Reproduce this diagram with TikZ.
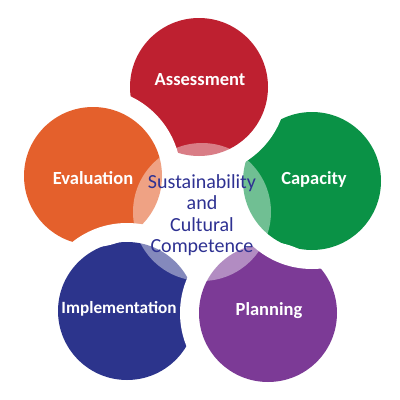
\documentclass[tikz,border=0pt]{standalone}
\usepackage{fontspec}
\setmainfont{Carlito}
\definecolor{cred}{RGB}{190,32,48}
\definecolor{cgreen}{RGB}{10,146,70}
\definecolor{cpurple}{RGB}{124,58,150}
\definecolor{cblue}{RGB}{44,52,140}
\definecolor{corange}{RGB}{228,96,44}
\definecolor{ctext}{RGB}{46,49,146}
\begin{document}
\begin{tikzpicture}[x=1pt,y=-1pt,
  lbl/.style={text=white,font=\bfseries\fontsize{18.5}{21}\selectfont,inner sep=0pt},
  ctr/.style={text=ctext,font=\fontsize{20}{21.5}\selectfont,align=center,inner sep=0pt}]
\useasboundingbox (0,0) rectangle (400,400);
\fill[white] (0,0) rectangle (400,400);
\coordinate (cA) at (199,87);
\coordinate (cC) at (312,181);
\coordinate (cP) at (268,313);
\coordinate (cI) at (127,311);
\coordinate (cE) at (93,176);
\coordinate (cO) at (202,212);
\def\mypetal#1#2#3{%
  \fill[#3] (#1) circle (69pt);
  \begin{scope}
    \clip (#1) circle (71pt);
    \fill[white] (#2) circle (88pt);
  \end{scope}}
\mypetal{cA}{cE}{cred}
\mypetal{cC}{cA}{cgreen}
\mypetal{cP}{cC}{cpurple}
\mypetal{cI}{cP}{cblue}
\mypetal{cE}{cI}{corange}
\fill[white,opacity=0.42] (cO) circle (69pt);
\node[lbl] (tA) at (200,80) {Assessment};
\node[lbl] (tC) at (314,179) {Capacity};
\node[lbl] (tP) at (269,311) {Planning};
\node[lbl,font=\bfseries\fontsize{17.2}{21}\selectfont] (tI) at (119,309) {Implementation};
\node[lbl] (tE) at (93,178) {Evaluation};
\node[ctr] (tO) at (202,215) {Sustainability\\and\\Cultural\\Competence};
\end{tikzpicture}
\end{document}
